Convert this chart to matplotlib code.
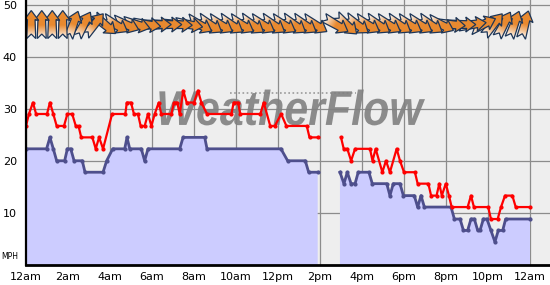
import numpy as np
import matplotlib
matplotlib.use("Agg")
import matplotlib.pyplot as plt
import matplotlib.transforms as mtransforms
from matplotlib.path import Path
from matplotlib.patches import PathPatch
from matplotlib.textpath import TextPath
from matplotlib.font_manager import FontProperties
from matplotlib.colors import LinearSegmentedColormap

# wind gust (mph), breakpoints, nan = data gap
gust_hours = [0.0, 0.14, 0.33, 0.48, 1.0, 1.14, 1.3, 1.46, 1.81, 1.97, 2.2, 2.37, 2.5, 2.63,
              3.16, 3.32, 3.48, 3.67, 4.1, 4.73, 4.8, 5.0, 5.14, 5.33, 5.46, 5.65, 5.81, 5.97,
              6.13, 6.32, 6.44, 6.92, 7.05, 7.2, 7.32, 7.49, 7.65, 8.0, 8.19, 8.35, 8.62, 9.78,
              9.89, 10.1, 10.2, 11.16, 11.32, 11.63, 11.85, 12.15, 12.4, 13.37, 13.5, 13.89,
              np.nan,
              15.0, 15.13, 15.3, 15.48, 15.67, 16.38, 16.5, 16.65, 16.97, 17.14, 17.33, 17.65,
              17.81, 18.0, 18.52, 18.65, 19.16, 19.29, 19.55, 19.68, 19.8, 19.99, 20.14, 20.27,
              21.03, 21.19, 21.33, 22.01, 22.14, 22.46, 22.62, 22.81, 23.16, 23.32, 24.0]
gust_mph = [26.8, 29.1, 31.3, 29.1, 29.1, 31.3, 29.1, 26.8, 26.8, 29.1, 29.1, 26.8, 26.8, 24.6,
            24.6, 22.4, 24.6, 22.4, 29.1, 29.1, 31.3, 31.3, 29.1, 29.1, 26.8, 26.8, 29.1, 26.8,
            29.1, 31.3, 29.1, 29.1, 31.3, 31.3, 29.1, 33.6, 31.3, 31.3, 33.6, 31.3, 29.1, 29.1,
            31.3, 31.3, 29.1, 29.1, 31.3, 26.8, 26.8, 29.1, 26.8, 26.8, 24.6, 24.6,
            np.nan,
            24.6, 22.4, 22.4, 20.1, 22.4, 22.4, 20.1, 22.4, 17.9, 20.1, 17.9, 22.4,
            20.1, 17.9, 17.9, 15.7, 15.7, 13.4, 13.4, 15.7, 13.4, 15.7, 13.4, 11.2,
            11.2, 13.4, 11.2, 11.2, 8.9, 8.9, 11.2, 13.4, 13.4, 11.2, 11.2]

# average wind (mph)
avg_hours = [0.0, 0.98, 1.14, 1.3, 1.46, 1.84, 1.97, 2.13, 2.29, 2.68, 2.81, 3.67, 3.84, 4.13,
             4.7, 4.81, 4.94, 5.49, 5.65, 5.81, 7.32, 7.48, 8.51, 8.62, 12.14, 12.46, 13.3,
             13.46, 13.89,
             np.nan,
             14.95, 15.14, 15.3, 15.48, 15.67, 15.82, 16.33, 16.49, 17.18, 17.33, 17.49, 17.81,
             17.97, 18.49, 18.65, 18.81, 18.97, 20.24, 20.4, 20.67, 20.83, 21.03, 21.19, 21.35,
             21.51, 21.62, 21.78, 21.95, 22.14, 22.33, 22.49, 22.7, 22.84, 24.0]
avg_mph = [22.4, 22.4, 24.6, 22.4, 20.1, 20.1, 22.4, 22.4, 20.1, 20.1, 17.9, 17.9, 20.1, 22.4,
           22.4, 24.6, 22.4, 22.4, 20.1, 22.4, 22.4, 24.6, 24.6, 22.4, 22.4, 20.1, 20.1,
           17.9, 17.9,
           np.nan,
           17.9, 15.7, 17.9, 15.7, 15.7, 17.9, 17.9, 15.7, 15.7, 13.4, 15.7, 15.7,
           13.4, 13.4, 11.2, 13.4, 11.2, 11.2, 8.9, 8.9, 6.7, 6.7, 8.9, 8.9,
           6.7, 6.7, 8.9, 8.9, 6.7, 4.5, 6.7, 6.7, 8.9, 8.9]

# wind direction arrows, one per half hour (screen angle in degrees, 90 = pointing up)
dir_angle = [90, 90, 90, 90, 70, 62, 50, -40, -30, -22, -15, -8,
             0, 0, -3, -10, -28, -32, -30, -32, -30, -33, -30, -32,
             -30, -33, -32, -30, np.nan, -30, -42, -35, -30, -32, -30, -32,
             -30, -30, -32, -25, -5, 0, 8, 25, 50, 62, 70, 75]
dir_hours = 0.25 + 0.5 * np.arange(len(dir_angle))

tick_hours = list(range(0, 25, 2))
tick_names = ['12am', '2am', '4am', '6am', '8am', '10am', '12pm',
              '2pm', '4pm', '6pm', '8pm', '10pm', '12am']
y_ticks = [10, 20, 30, 40, 50]

fig = plt.figure(figsize=(5.5, 2.85), dpi=100)
ax = fig.add_axes([26 / 550, 19.7 / 285, 524 / 550, 265.3 / 285])
ax.set_facecolor('#EEEEEE')
xmax = 24 + 20 / 21
ymax = 51.02
ax.set_xlim(0, xmax)
ax.set_ylim(0, ymax)

ax.set_xticks(tick_hours)
ax.set_xticklabels(tick_names, fontsize=8)
ax.set_yticks(y_ticks)
ax.set_yticklabels([str(v) for v in y_ticks], fontsize=8)
ax.tick_params(axis='both', length=0)
ax.tick_params(axis='y', pad=6.5)
ax.tick_params(axis='x', pad=5)
ax.grid(True, color='#8C8C8C', linewidth=0.9)
ax.set_axisbelow(True)
for s in ['top', 'right']:
    ax.spines[s].set_visible(False)
ax.spines['left'].set_linewidth(1.6)
ax.spines['bottom'].set_linewidth(2.0)
ax.spines['left'].set_zorder(8)
ax.spines['bottom'].set_zorder(8)

fig.text(0.003, 28.5 / 285, 'MPH', fontsize=5.5, va='center', ha='left')

# watermark
tp = TextPath((0, 0), 'WeatherFlow', size=50,
              prop=FontProperties(family='Liberation Sans', weight='bold', style='italic'))
ext = tp.get_extents()
x0, x1 = 6.35, 19.0
y0, y1 = 26.9, 33.8
wm_tr = (mtransforms.Affine2D().translate(-ext.x0, -ext.y0)
         .scale((x1 - x0) / ext.width, (y1 - y0) / ext.height)
         .translate(x0, y0)) + ax.transData
ax.add_patch(PathPatch(tp, transform=wm_tr, facecolor='#808080', edgecolor='none',
                       alpha=0.9, zorder=1.5))
ax.plot([9.7, 15.7], [33.2, 33.2], color='#9A9A9A', linestyle=(0, (1, 1.5)),
        linewidth=1.2, zorder=1.4)

gh = np.array(gust_hours, dtype=float)
gm = np.array(gust_mph, dtype=float)
ah = np.array(avg_hours, dtype=float)
am = np.array(avg_mph, dtype=float)

ax.fill_between(ah, 0, am, color='#CCCCFF', linewidth=0, zorder=2)
ax.plot(ah, am, color='#4E4F8C', linewidth=2.0, marker='o', markersize=2.0, zorder=3)
ax.plot(gh, gm, color='#FF0000', linewidth=1.6, marker='o', markersize=2.0, zorder=4)

# direction arrows, drawn in pixel space; earlier arrows sit on top
arrow_xy = np.array([[14, 0], [4, 7.5], [5, 3.8], [-14, 4.5], [-9.5, 0],
                     [-14, -4.5], [5, -3.8], [4, -7.5], [14, 0]])
arrow_path = Path(arrow_xy, closed=True)
arrow_cmap = LinearSegmentedColormap.from_list('wd', ['#FFFFFF', '#E8892F', '#E8892F'])
grad = np.linspace(0, 1, 64)[None, :]
arrow_level = 46.3
n_arrows = len(dir_angle)

for i, (h, ang) in enumerate(zip(dir_hours, dir_angle)):
    if np.isnan(ang):
        continue
    cx, cy = ax.transData.transform((h, arrow_level))
    tr = mtransforms.Affine2D().rotate_deg(ang).translate(cx, cy)
    z = 5 + (n_arrows - i) * 0.01
    patch = PathPatch(arrow_path, transform=tr, facecolor='none',
                      edgecolor='#1C3557', linewidth=0.9, zorder=z + 0.005)
    ax.add_patch(patch)
    im = ax.imshow(grad, cmap=arrow_cmap, extent=(-14, 14, -8, 8), transform=tr,
                   aspect='auto', interpolation='bilinear', zorder=z)
    im.set_clip_path(patch)

ax.set_xlim(0, xmax)
ax.set_ylim(0, ymax)

fig.savefig('out.png', dpi=100)
